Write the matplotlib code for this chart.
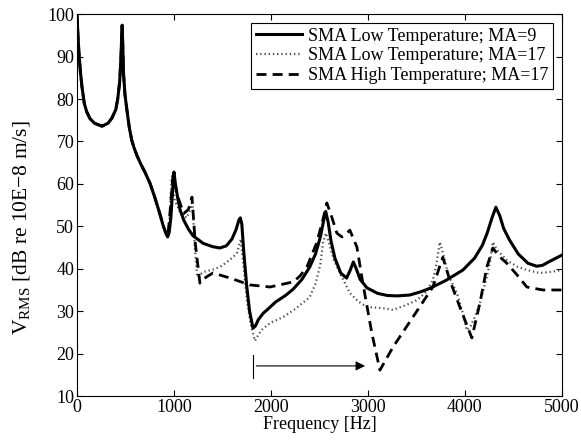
import numpy as np
import matplotlib
matplotlib.use('Agg')
from matplotlib import pyplot as plt

# common low-frequency part (all three curves coincide there)
f_low = [0, 10, 20, 35, 52, 75, 100, 134, 180, 258, 320, 360, 400, 420, 440, 454, 462, 466,
         472, 480, 495, 515, 540, 565, 590, 620, 660, 700, 752, 800, 850, 887, 915, 935]
v_low = [100, 95, 91, 86.5, 82.8, 79, 77, 75.4, 74.3, 73.6, 74.3, 75.5, 77.5, 80, 84, 90, 95.5, 97.4,
         93, 86, 81, 77.4, 73.2, 70.3, 68.4, 66.6, 64.6, 62.8, 60.2, 57, 53.3, 50.3, 48.5, 47.5]

f_ma9 = [950, 968, 985, 1000, 1015, 1040, 1062, 1100, 1150, 1196, 1300, 1400, 1474, 1540, 1598,
         1640, 1670, 1685, 1700, 1720, 1750, 1780, 1815, 1840, 1870, 1920, 1960, 2050, 2150, 2230,
         2320, 2400, 2460, 2510, 2545, 2565, 2590, 2620, 2660, 2720, 2780, 2815, 2850, 2880, 2920,
         2990, 3100, 3200, 3300, 3430, 3550, 3640, 3800, 3980, 4100, 4180, 4230, 4280, 4320, 4360,
         4400, 4460, 4550, 4650, 4740, 4800, 4880, 5000]
v_ma9 = [48.5, 52, 58, 62.8, 60, 56.5, 54, 51.5, 49.3, 47.8, 46, 45.2, 44.9, 45.4, 47,
         49.2, 51.5, 52, 50.5, 44, 36, 30, 26, 26.5, 28, 29.5, 30.3, 32.2, 33.7, 35.2,
         37.5, 40.4, 43.5, 47.5, 51.5, 53.5, 51, 46.5, 42.5, 39, 37.8, 39.5, 41.6, 40, 37.5,
         35.5, 34.2, 33.7, 33.6, 33.8, 34.6, 35.4, 37.2, 39.7, 42.5, 45.5, 48.4, 52, 54.5, 52.5,
         49.5, 46.8, 43.5, 41.3, 40.6, 40.8, 41.8, 43.2]

f_low17 = [955, 975, 1010, 1060, 1130, 1170, 1190, 1215, 1240, 1300, 1400, 1474, 1560, 1620,
           1650, 1690, 1720, 1753, 1790, 1815, 1835, 1860, 1900, 1990, 2124, 2250, 2400, 2460,
           2510, 2536, 2567, 2600, 2650, 2711, 2814, 2900, 2990, 3155, 3258, 3400, 3505, 3600,
           3670, 3710, 3742, 3770, 3830, 3917, 3980, 4020, 4060, 4100, 4155, 4220, 4258, 4289,
           4330, 4433, 4540, 4639, 4773, 4870, 5000]
v_low17 = [52, 61, 56, 53.5, 52, 54, 56, 45, 38, 39.2, 39.8, 40.4, 41.8, 43,
           43.7, 47, 40, 32.6, 27, 24.8, 23, 24, 25.5, 27.2, 28.6, 30.5, 33.3, 36.5,
           41, 46, 48.4, 46, 42, 39, 34.3, 32.3, 31, 30.7, 30.3, 31.5, 32.6, 34.5,
           37.3, 41.5, 46.3, 44, 38.5, 34.3, 29.5, 25.5, 26.5, 28.5, 31.9, 37.5, 41.3, 46.3,
           44.5, 42, 40.5, 39.7, 39, 39.2, 39.7]

f_high17 = [955, 990, 1040, 1100, 1150, 1186, 1220, 1268, 1330, 1402, 1580, 1780, 1990, 2230,
            2300, 2371, 2470, 2530, 2577, 2630, 2680, 2732, 2780, 2814, 2887, 2948, 3041, 3124,
            3258, 3464, 3670, 3740, 3773, 3845, 3948, 4072, 4155, 4227, 4289, 4350, 4433, 4540,
            4639, 4804, 5000]
v_high17 = [52, 62, 57, 53, 54, 56.9, 46, 36.6, 38, 39, 37.8, 36.2, 35.7, 36.9,
            38.3, 40.4, 46, 51, 55.5, 52, 48.4, 47.5, 48.3, 49.1, 45.1, 36.6, 24.8, 16.1,
            21.5, 28.6, 35.7, 40.5, 42.7, 37.3, 31, 23.7, 31.9, 40.4, 44.9, 43, 41.3, 38.5,
            35.7, 35, 35]

plt.rcParams['font.family'] = ['Liberation Serif', 'DejaVu Serif']
plt.rcParams['mathtext.fontset'] = 'custom'
plt.rcParams['mathtext.rm'] = 'Liberation Serif'

fig = plt.figure(figsize=(5.81, 4.43), dpi=100)
ax = fig.add_axes([0.1325, 0.106, 0.8345, 0.862])

ax.plot(f_low + f_ma9, v_low + v_ma9, color='black', lw=2.2, label='SMA Low Temperature; MA=9', zorder=3)
ax.plot(f_low + f_low17, v_low + v_low17, color='0.3', lw=1.6, linestyle=(0, (0.6, 1.3)),
        label='SMA Low Temperature; MA=17', zorder=2)
ax.plot(f_low + f_high17, v_low + v_high17, color='black', lw=2.0, linestyle=(0, (3.6, 2.2)),
        label='SMA High Temperature; MA=17', zorder=2)

ax.annotate('', xy=(3000, 17.1), xytext=(1820, 17.1),
            arrowprops=dict(arrowstyle='-|>', color='black', lw=0.8, mutation_scale=14))
ax.plot([1820, 1820], [14.2, 19.7], color='black', lw=0.8)

ax.set_xlim(0, 5000)
ax.set_ylim(10, 100)
ax.set_xticks(np.arange(0, 5001, 1000))
ax.set_yticks(np.arange(10, 101, 10))
ax.tick_params(direction='in', top=True, right=True, labelsize=13, length=4, pad=2)
ax.set_xlabel('Frequency [Hz]', fontsize=13, labelpad=0)
ax.set_ylabel(r'V$_{\rm RMS}$ [dB re 10E$-$8 m/s]', fontsize=15.5)
ax.yaxis.set_label_coords(-0.09, 0.442)

leg = ax.legend(loc='upper right', fontsize=13, fancybox=False, framealpha=1,
                edgecolor='black', borderpad=0.25, labelspacing=0.15, handlelength=2.6,
                handletextpad=0.3, borderaxespad=0.5)
leg.get_frame().set_linewidth(0.8)

fig.savefig('out.png', dpi=100)
